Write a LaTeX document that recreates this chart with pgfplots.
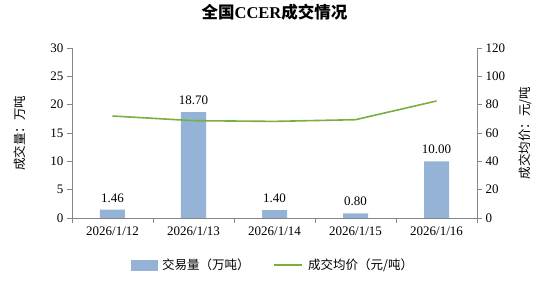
\documentclass[border=0pt]{standalone}
\usepackage{fontspec}
\setmainfont{Liberation Serif}
\newfontfamily\cjk{Noto Sans CJK SC}
\usepackage{pgfplots}
\pgfplotsset{compat=1.18}
\definecolor{barblue}{RGB}{149,179,215}
\definecolor{linegreen}{RGB}{119,176,64}
\definecolor{axgray}{RGB}{134,134,134}
\begin{document}
\begin{tikzpicture}
\useasboundingbox (-72bp,-63bp) rectangle (478bp,218bp);
\pgfplotsset{common/.style={
  scale only axis, width=405bp, height=170bp, at={(0,0)}, anchor=south west,
  xmin=-0.5, xmax=4.5,
  axis line style={axgray, line width=0.8bp},
  tick style={axgray, line width=0.8bp},
  major tick length=5bp,
  tick align=outside,
  /pgf/number format/assume math mode=true,
  tick label style={font=\fontsize{13bp}{14bp}\selectfont, text=black},
}}
\begin{axis}[common,
  axis x line*=bottom, axis y line*=left,
  ymin=0, ymax=30, ytick={0,5,...,30},
  xtick={-0.5,0.5,1.5,2.5,3.5,4.5}, x tick label as interval,
  xticklabels={2026/1/12,2026/1/13,2026/1/14,2026/1/15,2026/1/16},
  title={\cjk\bfseries 全国{\rmfamily\bfseries CCER}成交情况},
  title style={at={([yshift=30bp]rel axis cs:0.5,1)}, anchor=center, font=\fontsize{16.5bp}{18bp}\selectfont},
  ylabel={\cjk 成交量：万吨},
  ylabel style={at={([xshift=-52bp]rel axis cs:0,0.5)}, anchor=center, font=\fontsize{12.5bp}{14bp}\selectfont},
]
\addplot[ybar, bar width=25bp, fill=barblue, draw=none,
  nodes near coords={\pgfmathprintnumber[fixed,fixed zerofill,precision=2,assume math mode=true]{\pgfplotspointmeta}},
  nodes near coords style={font=\fontsize{13bp}{14bp}\selectfont, text=black, yshift=4bp}]
  coordinates {(0,1.46) (1,18.70) (2,1.40) (3,0.80) (4,10.00)};
\end{axis}
\begin{axis}[common,
  axis x line=none, axis y line*=right,
  ymin=0, ymax=120, ytick={0,20,...,120},
  ylabel={\cjk 成交均价：元/吨},
  ylabel style={at={([xshift=48bp]rel axis cs:1,0.5)}, anchor=center, rotate=0, font=\fontsize{12.5bp}{14bp}\selectfont},
  legend columns=2,
  legend style={at={(0.496,-0.276)}, anchor=center, draw=none, fill=none,
    font=\cjk\fontsize{12.5bp}{14bp}\selectfont,
    /tikz/every even column/.append style={column sep=22bp},
    /tikz/every odd column/.append style={column sep=3bp}},
]
\addlegendimage{legend image code/.code={\fill[barblue] (0bp,-5bp) rectangle (26bp,5bp);}}
\addlegendentry{交易量（万吨）}
\addplot[linegreen, line width=1.6bp, no marks,
  legend image code/.code={\draw[linegreen, line width=1.6bp] (0bp,0bp) -- (28bp,0bp);}]
  coordinates {(0,72.0) (1,68.7) (2,68.2) (3,69.4) (4,82.6)};
\addlegendentry{成交均价（元/吨）}
\end{axis}
\end{tikzpicture}
\end{document}
